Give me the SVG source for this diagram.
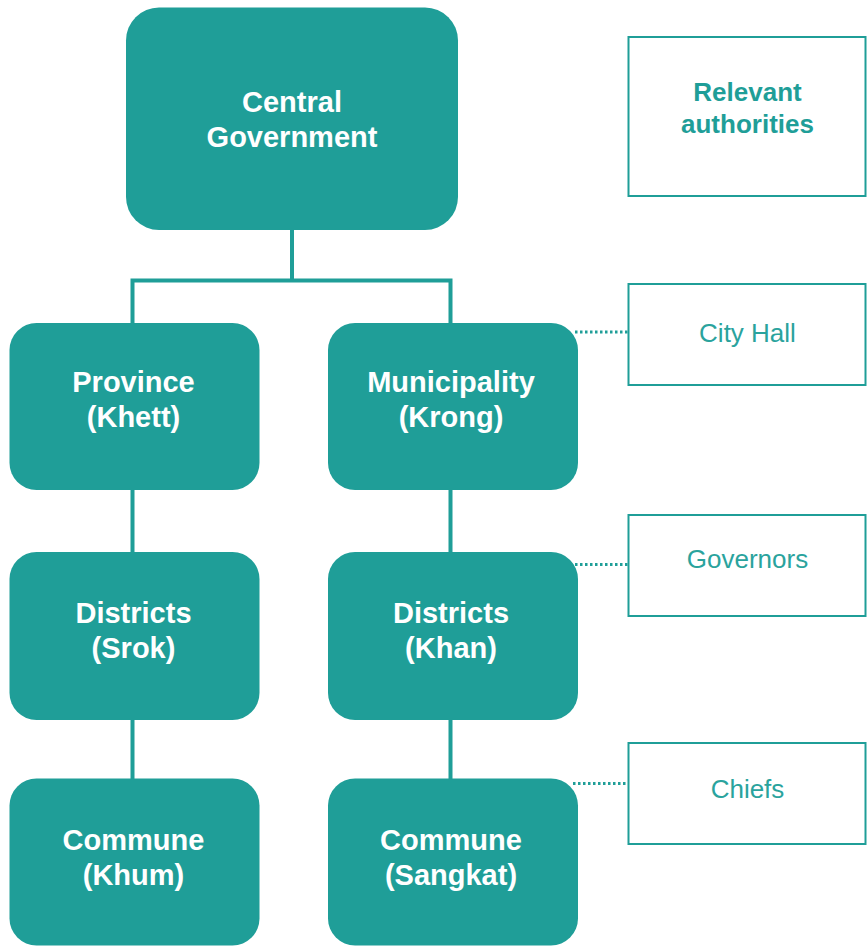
<svg xmlns="http://www.w3.org/2000/svg" width="867" height="949" viewBox="0 0 867 949">
<style>
.node{fill:#1f9e98;}
.nt{fill:#ffffff;font-family:"Liberation Sans",Arial,sans-serif;font-weight:bold;font-size:29px;text-anchor:middle;}
.auth{fill:#ffffff;stroke:#1f9e98;stroke-width:2;}
.at{fill:#2aa39d;font-family:"Liberation Sans",Arial,sans-serif;font-size:26px;text-anchor:middle;}
.ath{fill:#1f9e98;font-family:"Liberation Sans",Arial,sans-serif;font-weight:bold;font-size:26px;text-anchor:middle;}
.link{fill:none;stroke:#1f9e98;stroke-width:4;}
.dot{fill:none;stroke:#1f9e98;stroke-width:3;stroke-dasharray:2.5 2.5;}
</style>
<rect width="867" height="949" fill="#ffffff"/>
<g id="connectors">
<path class="link" d="M292,228 V280.5 M132.5,280.5 H450.5 M132.5,278.5 V325 M450.5,278.5 V325"/>
<path class="link" d="M132.5,488 V554 M132.5,718 V780"/>
<path class="link" d="M450.5,488 V554 M450.5,718 V780"/>
<path class="dot" d="M575,332 H628"/>
<path class="dot" d="M575,564.5 H628"/>
<path class="dot" d="M573,783.5 H628"/>
</g>
<g id="central">
<rect class="node" x="126" y="7.5" width="332" height="222.5" rx="33"/>
<text class="nt" x="292" y="112">Central</text>
<text class="nt" x="292" y="147">Government</text>
</g>
<g id="province">
<rect class="node" x="9.5" y="323" width="250" height="167" rx="27"/>
<text class="nt" x="133.5" y="392">Province</text>
<text class="nt" x="133.5" y="427">(Khett)</text>
</g>
<g id="municipality">
<rect class="node" x="328" y="323" width="250" height="167" rx="27"/>
<text class="nt" x="451" y="392">Municipality</text>
<text class="nt" x="451" y="427">(Krong)</text>
</g>
<g id="districts-srok">
<rect class="node" x="9.5" y="552" width="250" height="168" rx="27"/>
<text class="nt" x="133.5" y="623">Districts</text>
<text class="nt" x="133.5" y="658">(Srok)</text>
</g>
<g id="districts-khan">
<rect class="node" x="328" y="552" width="250" height="168" rx="27"/>
<text class="nt" x="451" y="623">Districts</text>
<text class="nt" x="451" y="658">(Khan)</text>
</g>
<g id="commune-khum">
<rect class="node" x="9.5" y="778.5" width="250" height="167" rx="27"/>
<text class="nt" x="133.5" y="850">Commune</text>
<text class="nt" x="133.5" y="885">(Khum)</text>
</g>
<g id="commune-sangkat">
<rect class="node" x="328" y="778.5" width="250" height="167" rx="27"/>
<text class="nt" x="451" y="850">Commune</text>
<text class="nt" x="451" y="885">(Sangkat)</text>
</g>
<g id="relevant-authorities">
<rect class="auth" x="628.5" y="37" width="237" height="159"/>
<text class="ath" x="747.5" y="101">Relevant</text>
<text class="ath" x="747.5" y="133">authorities</text>
</g>
<g id="city-hall">
<rect class="auth" x="628.5" y="284" width="237" height="101"/>
<text class="at" x="747.5" y="342">City Hall</text>
</g>
<g id="governors">
<rect class="auth" x="628.5" y="515" width="237" height="101"/>
<text class="at" x="747.5" y="568">Governors</text>
</g>
<g id="chiefs">
<rect class="auth" x="628.5" y="743" width="237" height="101"/>
<text class="at" x="747.5" y="798">Chiefs</text>
</g>
</svg>
